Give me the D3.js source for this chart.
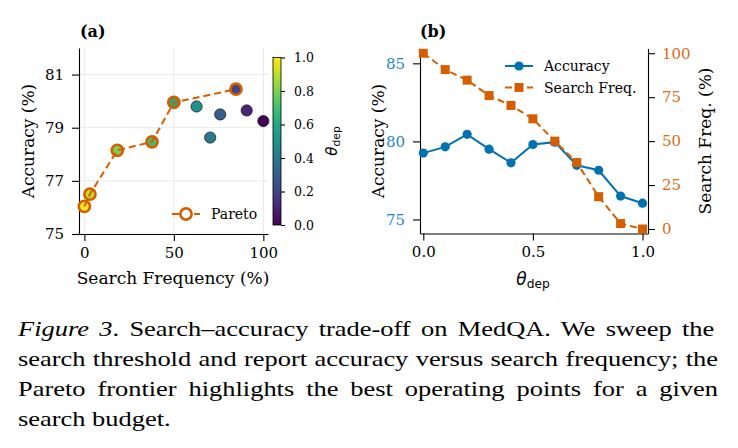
<!DOCTYPE html>
<html>
<head>
<meta charset="utf-8">
<script src="https://cdn.jsdelivr.net/npm/d3@7"></script>
<style>
  body { margin: 0; background: #fff; }
  svg text { font-family: "DejaVu Serif", serif; }
  .caption text { font-family: "Liberation Serif", "Times New Roman", serif; }
</style>
</head>
<body>
<script>
// threshold sweep (theta_dep) and results
const thetaVals = [0.0, 0.1, 0.2, 0.3, 0.4, 0.5, 0.6, 0.7, 0.8, 0.9, 1.0];
const accuracyVals = [79.25, 79.65, 80.45, 79.5, 78.63, 79.8, 79.95, 78.47, 78.15, 76.5, 76.04];
const searchFreqVals = [100, 90.7, 84.7, 75.9, 70.3, 62.7, 50, 37.8, 18.4, 3.1, 0];
// thresholds on the Pareto frontier
const paretoThetas = [1.0, 0.9, 0.8, 0.7, 0.6, 0.2];

// tick labels
const aXTicks = [0, 50, 100];
const aYTicks = [75, 77, 79, 81];
const cbTicks = [0, 0.2, 0.4, 0.6, 0.8, 1.0];
const bXTicks = [0, 0.5, 1.0];
const bYLeftTicks = [75, 80, 85];
const bYRightTicks = [0, 25, 50, 75, 100];

const captionLines = [
  "Search\u2013accuracy trade-off on MedQA. We sweep the",
  "search threshold and report accuracy versus search frequency; the",
  "Pareto frontier highlights the best operating points for a given",
  "search budget.",
];

const points = thetaVals.map((t, i) => ({
  theta: t,
  acc: accuracyVals[i],
  freq: searchFreqVals[i],
}));
const pareto = paretoThetas
  .map((t) => points.find((p) => p.theta === t))
  .sort((a, b) => a.freq - b.freq);

const blue = "#0072b2";
const orange = "#d55e00";
const tickFont = "15px";
const labelFont = "17px";

const svg = d3
  .select("body")
  .append("svg")
  .attr("width", 738)
  .attr("height", 448);

function styleAxis(g, color) {
  g.select(".domain").attr("stroke", "#000").attr("stroke-width", 1.1);
  g.selectAll(".tick line").attr("stroke", "#000").attr("stroke-width", 1.1);
  g.selectAll(".tick text")
    .attr("fill", color || "#000")
    .style("font-family", "DejaVu Serif")
    .style("font-size", tickFont);
}

function thetaLabel(sel) {
  sel.append("tspan")
    .style("font-family", "DejaVu Sans")
    .style("font-style", "italic")
    .text("\u03b8");
  sel.append("tspan")
    .style("font-family", "DejaVu Sans")
    .style("font-size", "0.72em")
    .attr("dy", "0.25em")
    .text("dep");
}

// ---------- panel (a) ----------
const xA = d3.scaleLinear().domain([-3, 102.6]).range([79, 268]);
const yA = d3.scaleLinear().domain([75, 82]).range([234, 48]);
const viridis = d3.scaleSequential(d3.interpolateViridis).domain([0, 1]);

const pa = svg.append("g");

// gridlines
pa.append("g")
  .selectAll("line")
  .data(aXTicks)
  .enter()
  .append("line")
  .attr("x1", (d) => xA(d))
  .attr("x2", (d) => xA(d))
  .attr("y1", yA.range()[0])
  .attr("y2", yA.range()[1])
  .attr("stroke", "#e9e9e9")
  .attr("stroke-width", 1);
pa.append("g")
  .selectAll("line")
  .data(aYTicks)
  .enter()
  .append("line")
  .attr("x1", xA.range()[0])
  .attr("x2", xA.range()[1])
  .attr("y1", (d) => yA(d))
  .attr("y2", (d) => yA(d))
  .attr("stroke", "#e9e9e9")
  .attr("stroke-width", 1);

pa.append("g")
  .attr("transform", `translate(0,${yA.range()[0]})`)
  .call(d3.axisBottom(xA).tickValues(aXTicks).tickSize(7).tickPadding(6).tickSizeOuter(0))
  .call((g) => styleAxis(g));
pa.append("g")
  .attr("transform", `translate(${xA.range()[0]},0)`)
  .call(d3.axisLeft(yA).tickValues(aYTicks).tickFormat(d3.format("d")).tickSize(7).tickPadding(8).tickSizeOuter(0))
  .call((g) => styleAxis(g));

// scatter of all thresholds
pa.append("g")
  .selectAll("circle")
  .data(points)
  .enter()
  .append("circle")
  .attr("cx", (d) => xA(d.freq))
  .attr("cy", (d) => yA(d.acc))
  .attr("r", 5.6)
  .attr("fill", (d) => viridis(d.theta))
  .attr("stroke", "#222")
  .attr("stroke-width", 0.8);

// Pareto frontier
pa.append("path")
  .datum(pareto)
  .attr("fill", "none")
  .attr("stroke", orange)
  .attr("stroke-width", 2)
  .attr("stroke-dasharray", "7,4")
  .attr("d", d3.line().x((d) => xA(d.freq)).y((d) => yA(d.acc)));
pa.append("g")
  .selectAll("circle")
  .data(pareto)
  .enter()
  .append("circle")
  .attr("cx", (d) => xA(d.freq))
  .attr("cy", (d) => yA(d.acc))
  .attr("r", 5.6)
  .attr("fill", "none")
  .attr("stroke", orange)
  .attr("stroke-width", 2.6);

// legend
const lgA = pa.append("g").attr("transform", "translate(172,214)");
lgA.append("line").attr("x1", 0).attr("x2", 28)
  .attr("stroke", orange).attr("stroke-width", 2).attr("stroke-dasharray", "7,4");
lgA.append("circle").attr("cx", 14).attr("r", 5.6).attr("fill", "#fff")
  .attr("stroke", orange).attr("stroke-width", 2.6);
lgA.append("text").attr("x", 39).attr("y", 5).style("font-size", "14px").text("Pareto");

pa.append("text").attr("x", 80).attr("y", 37)
  .style("font-weight", "bold").style("font-size", "16px").text("(a)");
pa.append("text").attr("x", 173).attr("y", 284)
  .attr("text-anchor", "middle").style("font-size", labelFont).text("Search Frequency (%)");
pa.append("text").attr("transform", "translate(34,141) rotate(-90)")
  .attr("text-anchor", "middle").style("font-size", labelFont).text("Accuracy (%)");

// colorbar
const cbY = d3.scaleLinear().domain([0, 1]).range([225, 57.5]);
const grad = svg.append("defs").append("linearGradient")
  .attr("id", "viridisGrad").attr("x1", 0).attr("x2", 0).attr("y1", 1).attr("y2", 0);
grad.selectAll("stop")
  .data(d3.range(0, 1.0001, 0.05))
  .enter()
  .append("stop")
  .attr("offset", (d) => d)
  .attr("stop-color", (d) => viridis(d));
pa.append("rect")
  .attr("x", 273).attr("y", cbY(1)).attr("width", 8).attr("height", cbY(0) - cbY(1))
  .attr("fill", "url(#viridisGrad)").attr("stroke", "#000").attr("stroke-width", 0.8);
pa.append("g")
  .attr("transform", "translate(281,0)")
  .call(d3.axisRight(cbY).tickValues(cbTicks).tickFormat(d3.format(".1f")).tickSize(4).tickPadding(9).tickSizeOuter(0))
  .call((g) => {
    styleAxis(g);
    g.select(".domain").remove();
    g.selectAll(".tick text").style("font-size", "12.5px");
  });
pa.append("text").attr("transform", "translate(337,141) rotate(-90)")
  .attr("text-anchor", "middle").style("font-size", "15px").call(thetaLabel);

// ---------- panel (b) ----------
const xB = d3.scaleLinear().domain([-0.015, 1.025]).range([420, 648]);
const yBL = d3.scaleLinear().domain([74.1, 85.95]).range([233.5, 48.5]);
const yBR = d3.scaleLinear().domain([-2.56, 102.7]).range([233.5, 48.5]);

const pb = svg.append("g");

pb.append("g")
  .attr("transform", `translate(0,${yBL.range()[0]})`)
  .call(d3.axisBottom(xB).tickValues(bXTicks).tickFormat(d3.format(".1f")).tickSize(7).tickPadding(6).tickSizeOuter(0))
  .call((g) => styleAxis(g));
pb.append("g")
  .attr("transform", `translate(${xB.range()[0]},0)`)
  .call(d3.axisLeft(yBL).tickValues(bYLeftTicks).tickSize(7).tickPadding(8).tickSizeOuter(0))
  .call((g) => styleAxis(g, "#1f84c6"));
pb.append("g")
  .attr("transform", `translate(${xB.range()[1]},0)`)
  .call(d3.axisRight(yBR).tickValues(bYRightTicks).tickSize(7).tickPadding(7).tickSizeOuter(0))
  .call((g) => styleAxis(g, "#dc6a14"));

// accuracy line
pb.append("path")
  .datum(points)
  .attr("fill", "none")
  .attr("stroke", blue)
  .attr("stroke-width", 2)
  .attr("d", d3.line().x((d) => xB(d.theta)).y((d) => yBL(d.acc)));
pb.append("g")
  .selectAll("circle")
  .data(points)
  .enter()
  .append("circle")
  .attr("cx", (d) => xB(d.theta))
  .attr("cy", (d) => yBL(d.acc))
  .attr("r", 4.6)
  .attr("fill", blue);

// search frequency line
pb.append("path")
  .datum(points)
  .attr("fill", "none")
  .attr("stroke", orange)
  .attr("stroke-width", 2)
  .attr("stroke-dasharray", "7,4")
  .attr("d", d3.line().x((d) => xB(d.theta)).y((d) => yBR(d.freq)));
pb.append("g")
  .selectAll("rect")
  .data(points)
  .enter()
  .append("rect")
  .attr("x", (d) => xB(d.theta) - 4.5)
  .attr("y", (d) => yBR(d.freq) - 4.5)
  .attr("width", 9)
  .attr("height", 9)
  .attr("fill", orange);

// legend
const lgB = pb.append("g").attr("transform", "translate(505,66)");
lgB.append("line").attr("x1", 0).attr("x2", 28).attr("stroke", blue).attr("stroke-width", 2);
lgB.append("circle").attr("cx", 14).attr("r", 4.6).attr("fill", blue);
lgB.append("text").attr("x", 39).attr("y", 5).style("font-size", "14px").text("Accuracy");
const lgB2 = pb.append("g").attr("transform", "translate(505,87.5)");
lgB2.append("line").attr("x1", 0).attr("x2", 28).attr("stroke", orange)
  .attr("stroke-width", 2).attr("stroke-dasharray", "7,4");
lgB2.append("rect").attr("x", 9.5).attr("y", -4.5).attr("width", 9).attr("height", 9).attr("fill", orange);
lgB2.append("text").attr("x", 39).attr("y", 5).style("font-size", "14px").text("Search Freq.");

pb.append("text").attr("x", 420).attr("y", 37)
  .style("font-weight", "bold").style("font-size", "16px").text("(b)");
pb.append("text").attr("x", 533).attr("y", 285)
  .attr("text-anchor", "middle").style("font-size", labelFont).call(thetaLabel);
pb.append("text").attr("transform", "translate(384,141) rotate(-90)")
  .attr("text-anchor", "middle").style("font-size", labelFont).text("Accuracy (%)");
pb.append("text").attr("transform", "translate(711,141) rotate(-90)")
  .attr("text-anchor", "middle").style("font-size", labelFont).text("Search Freq. (%)");

// ---------- caption (justified, glyphs are a bit wide in the source) ----------
const capLeft = 18, capRight = 718, capTop = 336, capStep = 30;
const capStretch = 1.29;
const cap = svg.append("g")
  .attr("class", "caption")
  .attr("transform", `translate(${capLeft},0) scale(${capStretch},1)`);
const capWidth = (capRight - capLeft) / capStretch;
captionLines.forEach((line, i) => {
  const t = cap.append("text")
    .attr("x", 0)
    .attr("y", capTop + i * capStep)
    .style("font-size", "20.5px");
  if (i === 0) {
    t.append("tspan").style("font-style", "italic").text("Figure 3");
    t.append("tspan").text(".  ");
  }
  t.append("tspan").text(line);
  if (i < captionLines.length - 1) {
    const natural = t.node().getComputedTextLength();
    const full = (i === 0 ? "Figure 3.  " : "") + line;
    const gaps = full.split(" ").length - 1;
    t.style("word-spacing", `${(capWidth - natural) / gaps}px`);
  }
});
</script>
</body>
</html>
